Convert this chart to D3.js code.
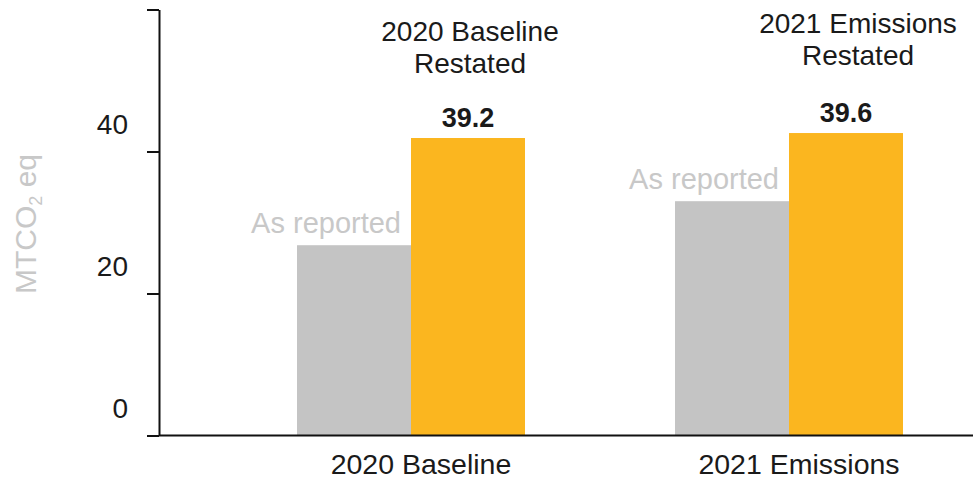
<!DOCTYPE html>
<html>
<head>
<meta charset="utf-8">
<script src="https://cdn.jsdelivr.net/npm/d3@7"></script>
<style>
  body { margin: 0; background: #fff; }
  svg { display: block; font-family: "Liberation Sans", Arial, sans-serif; }
</style>
</head>
<body>
<div id="chart"></div>
<script>
// chart data
const categories = ['2020 Baseline', '2021 Emissions'];
const series = ['As reported', 'Restated'];
const reported = [26.8, 33.0];
const restated = [41.9, 42.6];
const restatedLabels = ['39.2', '39.6'];
const groupTitles = [['2020 Baseline', 'Restated'], ['2021 Emissions', 'Restated']];
const yTicks = [0, 20, 40, 60];
const yTickLabels = ['0', '20', '40', ''];

const width = 973, height = 481;
const margin = {left: 159, top: 9.5, bottom: 45.5};
const colours = {reported: '#c4c4c4', restated: '#fbb61f', muted: '#c8c8c8', text: '#1a1a1a'};

const svg = d3.select('#chart').append('svg')
    .attr('width', width)
    .attr('height', height);

// scales
const y = d3.scaleLinear()
    .domain([0, 60])
    .range([height - margin.bottom, margin.top]);

const x0 = d3.scaleBand()
    .domain(categories)
    .range([222, 978])
    .padding(0);

const x1 = d3.scaleBand()
    .domain(series)
    .range([0, x0.bandwidth()])
    .paddingInner(0)
    .paddingOuter(0.658);

// y axis
const yAxis = d3.axisLeft(y)
    .tickValues(yTicks)
    .tickSize(12)
    .tickSizeOuter(0)
    .tickFormat((d, i) => yTickLabels[i]);

const gy = svg.append('g')
    .attr('transform', `translate(${margin.left},0)`)
    .call(yAxis);
gy.select('.domain').attr('stroke', '#111').attr('stroke-width', 2);
gy.selectAll('.tick line').attr('stroke', '#111').attr('stroke-width', 2);
gy.selectAll('.tick text')
    .attr('x', -31)
    .attr('dy', -18)
    .attr('fill', colours.text)
    .style('font-size', '28px')
    .style('font-family', '"Liberation Sans", Arial, sans-serif');

// y title
svg.append('text')
    .attr('transform', `translate(36, 224) rotate(-90)`)
    .attr('text-anchor', 'middle')
    .attr('fill', colours.muted)
    .style('font-size', '30px')
    .call(t => {
        t.append('tspan').text('MTCO');
        t.append('tspan').text('2').style('font-size', '18px').attr('dy', 6);
        t.append('tspan').text(' eq').attr('dy', -6);
    });

// bars
const groups = svg.append('g').selectAll('g')
    .data(categories)
    .enter()
    .append('g')
        .attr('transform', d => `translate(${x0(d)},0)`);

groups.append('rect')
    .attr('x', x1('As reported'))
    .attr('width', x1.bandwidth())
    .attr('y', (d, i) => y(reported[i]))
    .attr('height', (d, i) => y(0) - y(reported[i]))
    .attr('fill', colours.reported);

groups.append('rect')
    .attr('x', x1('Restated'))
    .attr('width', x1.bandwidth())
    .attr('y', (d, i) => y(restated[i]))
    .attr('height', (d, i) => y(0) - y(restated[i]))
    .attr('fill', colours.restated);

// "As reported" labels, right aligned just left of the orange bar
groups.append('text')
    .attr('x', x1('Restated') - 10)
    .attr('y', (d, i) => y(reported[i]) - 12)
    .attr('text-anchor', 'end')
    .attr('fill', colours.muted)
    .style('font-size', '29px')
    .text('As reported');

// value labels on restated bars
groups.append('text')
    .attr('x', x1('Restated') + x1.bandwidth() / 2)
    .attr('y', (d, i) => y(restated[i]) - 11)
    .attr('text-anchor', 'middle')
    .attr('fill', colours.text)
    .style('font-size', '27px')
    .style('font-weight', 'bold')
    .text((d, i) => restatedLabels[i]);

// group titles above the restated bars
const titleOffset = [{dx: 2, y: 41}, {dx: 12, y: 33}];
groups.append('text')
    .attr('text-anchor', 'middle')
    .attr('fill', colours.text)
    .style('font-size', '28px')
    .each(function(d, i) {
        const t = d3.select(this);
        const cx = x1('Restated') + x1.bandwidth() / 2 + titleOffset[i].dx;
        groupTitles[i].forEach((line, k) => {
            t.append('tspan')
                .attr('x', cx)
                .attr('y', titleOffset[i].y + k * 32)
                .text(line);
        });
    });

// category labels under the groups
svg.append('g').selectAll('text')
    .data(categories)
    .enter()
    .append('text')
        .attr('x', d => x0(d) + x0.bandwidth() / 2 + 10)
        .attr('y', 474)
        .attr('text-anchor', 'middle')
        .attr('fill', colours.text)
        .style('font-size', '28.5px')
        .text(d => d);

// baseline
svg.append('line')
    .attr('x1', margin.left)
    .attr('x2', width)
    .attr('y1', y(0))
    .attr('y2', y(0))
    .attr('stroke', '#111')
    .attr('stroke-width', 2);
</script>
</body>
</html>
